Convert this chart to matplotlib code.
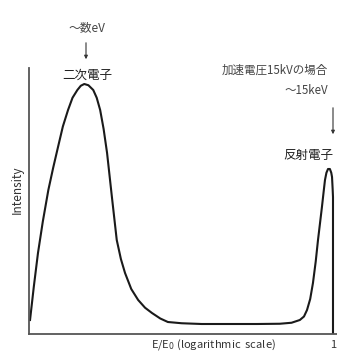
import matplotlib.pyplot as plt

plt.rcParams['font.family'] = ['Noto Sans CJK JP', 'DejaVu Sans']

# log10(E/E0) and relative intensity
log_e = [-4.385, -4.33, -4.27, -4.20, -4.12, -4.05, -3.98, -3.91, -3.835, -3.77, -3.70, -3.65,
         -3.60, -3.54, -3.47, -3.42, -3.37, -3.32, -3.27, -3.20, -3.13, -3.07, -3.01, -2.92,
         -2.82, -2.72, -2.62, -2.50, -2.39, -2.19, -1.90, -1.49, -1.10, -0.77, -0.60, -0.48,
         -0.42, -0.376, -0.33, -0.29, -0.25, -0.217, -0.185, -0.16, -0.135, -0.116, -0.095,
         -0.072, -0.045, -0.025, -0.014, -0.005, 0.0, 0.0]
intensity = [0.056, 0.19, 0.324, 0.45, 0.576, 0.665, 0.748, 0.83, 0.896, 0.945, 0.976, 0.993,
             1.0, 0.995, 0.976, 0.945, 0.896, 0.82, 0.724, 0.548, 0.376, 0.30, 0.244, 0.18,
             0.136, 0.105, 0.084, 0.062, 0.048, 0.043, 0.040, 0.040, 0.040, 0.041, 0.045, 0.056,
             0.07, 0.096, 0.14, 0.204, 0.29, 0.376, 0.45, 0.508, 0.57, 0.616, 0.645,
             0.66, 0.66, 0.645, 0.628, 0.58, 0.548, 0.0]

fig = plt.figure(figsize=(3.37, 3.53), dpi=100)
ax = fig.add_axes([29 / 337, 19 / 353, 308 / 337, 266 / 353])
ax.plot(log_e, intensity, color='#1a1a1a', lw=1.5, solid_joinstyle='round')
ax.set_xlim(-4.4, 0.058)
ax.set_ylim(0, 1.064)

for s in ['top', 'right']:
    ax.spines[s].set_visible(False)
for s in ['left', 'bottom']:
    ax.spines[s].set_color('#555555')
    ax.spines[s].set_linewidth(1.3)
ax.set_yticks([])
ax.set_xticks([0])
ax.set_xticklabels(['1'], fontsize=8, color='#333333')
ax.tick_params(axis='x', length=0, pad=4)

fig.text(17 / 337, 1 - 190 / 353, 'Intensity', rotation=90, ha='center', va='center',
         fontsize=8.5, color='#333333')
fig.text(213 / 337, 1 - 345 / 353, 'E/E$_0$ (logarithmic  scale)', ha='center', va='center',
         fontsize=8, color='#333333')

# secondary electrons
fig.text(87 / 337, 1 - 28 / 353, '～数eV', ha='center', va='center', fontsize=8.5, color='#444444')
ax.annotate('', xy=(86 / 337, 1 - 62 / 353), xytext=(86 / 337, 1 - 40 / 353),
            xycoords='figure fraction', textcoords='figure fraction',
            arrowprops=dict(arrowstyle='-|>', color='#333333', lw=0.8, mutation_scale=5))
fig.text(87 / 337, 1 - 75 / 353, '二次電子', ha='center', va='center', fontsize=9, color='#222222')

# backscattered electrons
fig.text(222 / 337, 1 - 70 / 353, '加速電圧15kVの場合', ha='left', va='center',
         fontsize=8.3, color='#444444')
fig.text(285 / 337, 1 - 90 / 353, '～15keV', ha='left', va='center', fontsize=8.3, color='#444444')
ax.annotate('', xy=(333 / 337, 1 - 137 / 353), xytext=(333 / 337, 1 - 105 / 353),
            xycoords='figure fraction', textcoords='figure fraction',
            arrowprops=dict(arrowstyle='-|>', color='#333333', lw=0.8, mutation_scale=5))
fig.text(283 / 337, 1 - 155 / 353, '反射電子', ha='left', va='center', fontsize=9, color='#222222')

fig.savefig('out.png', dpi=100)
